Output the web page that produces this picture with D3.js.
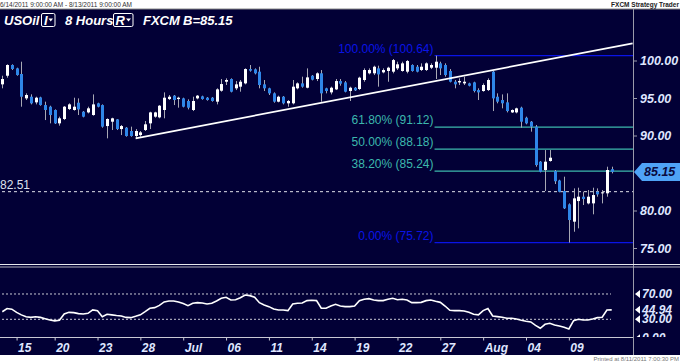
<!DOCTYPE html>
<html>
<head>
<meta charset="utf-8">
<script src="https://cdn.jsdelivr.net/npm/d3@7"></script>
<style>
body { margin: 0; background: #fff; }
svg { display: block; font-family: "Liberation Sans", Arial, sans-serif; }
</style>
</head>
<body>
<div id="chart"></div>
<script>
// 8 hour bars, USOil, 6/14 - 8/11 2011
var opens = [96.82,97.97,99.40,98.95,98.20,94.95,95.17,94.42,95.08,94.06,
  93.84,93.40,91.62,92.20,93.53,93.40,94.37,93.17,93.08,92.73,
  94.29,94.06,91.26,91.84,92.15,90.86,91.04,90.60,89.93,90.06,
  90.73,91.62,92.51,92.42,93.40,94.86,95.31,94.86,94.95,94.60,
  93.40,94.95,95.22,95.04,95.04,94.51,95.97,97.17,97.53,96.29,
  96.51,96.95,98.86,98.82,98.51,96.82,96.29,95.62,94.51,95.17,
  94.29,94.29,96.29,96.95,96.37,97.97,97.53,98.29,96.29,95.75,
  96.15,97.26,97.08,95.93,96.37,96.20,97.40,98.29,98.29,98.95,
  98.42,98.60,98.51,98.95,98.60,98.51,99.40,99.17,98.73,98.73,
  99.04,99.04,99.62,99.40,98.60,97.17,97.08,96.95,96.95,97.08,
  96.06,95.93,96.06,98.51,95.17,94.73,94.42,93.08,93.08,93.71,
  92.37,91.84,91.18,86.51,85.40,86.60,85.26,84.00,82.60,80.82,
  78.51,81.26,81.84,80.95,80.95,82.51,82.29,82.29,85.51]

var highs = [97.97,99.49,99.49,99.04,99.84,95.62,95.49,95.17,95.17,94.51,
  93.97,93.48,92.51,93.93,94.29,95.04,94.95,93.26,93.84,95.48,
  94.37,94.15,92.29,92.37,92.20,91.40,91.13,91.18,90.86,90.60,
  91.93,93.17,93.17,94.06,95.75,95.40,95.40,95.17,95.04,94.82,
  95.17,95.40,95.31,95.13,95.13,96.29,97.53,97.62,97.62,97.26,
  97.40,98.95,99.40,98.95,99.17,97.40,96.37,95.75,95.31,95.26,
  94.73,97.40,97.08,97.84,98.95,98.06,98.42,98.73,96.37,96.51,
  97.53,97.53,97.26,96.51,96.46,97.84,98.95,98.95,99.31,99.31,
  98.95,99.17,100.20,99.84,99.84,100.06,99.49,99.40,99.62,99.75,
  99.62,100.64,99.84,99.62,98.86,97.40,97.62,97.84,97.04,97.17,
  96.29,96.95,97.62,98.60,95.62,95.48,95.62,93.48,93.71,93.84,
  92.51,91.93,91.40,86.60,88.06,88.06,85.40,84.10,84.51,80.95,
  82.95,83.04,82.51,82.73,83.04,82.95,82.73,85.84,85.84]

var lows = [96.29,97.71,98.73,97.97,93.84,94.73,94.15,94.15,93.97,92.06,
  91.62,91.53,91.31,92.06,93.40,93.31,92.73,92.42,92.95,92.64,
  93.75,91.04,89.62,90.73,90.73,90.06,89.84,89.84,89.62,89.84,
  90.60,90.86,92.37,92.29,92.29,94.73,94.06,93.71,93.75,93.48,
  93.26,94.82,94.77,94.64,94.51,94.15,95.84,96.73,95.75,96.06,
  95.84,96.82,98.51,98.15,96.29,95.93,95.40,94.37,94.42,94.15,
  93.84,94.15,96.15,96.37,96.29,97.35,97.26,94.51,95.62,95.48,
  96.06,96.64,95.75,94.60,95.93,96.06,97.17,98.15,98.06,96.51,
  98.29,97.17,98.29,98.73,98.51,98.29,98.51,98.42,98.60,98.60,
  98.86,97.53,98.06,97.84,97.08,96.29,96.73,96.73,96.55,95.75,
  94.73,95.84,95.93,93.26,94.29,93.62,93.08,93.00,92.95,91.04,
  91.49,90.51,85.84,85.08,82.60,86.51,83.53,82.42,80.20,75.72,
  77.17,77.62,80.73,80.82,79.49,81.84,80.95,81.84,84.95]

var closes = [97.53,99.40,98.86,98.06,95.17,95.40,94.29,95.04,94.06,93.40,
  92.73,91.62,92.29,93.84,94.15,93.84,93.48,92.51,93.62,94.15,
  93.84,91.18,92.20,92.29,90.86,91.26,89.93,89.93,90.60,90.42,
  91.49,93.08,93.08,93.97,95.04,95.17,94.73,95.04,93.84,93.71,
  94.60,95.31,94.86,94.73,94.60,96.15,96.86,97.40,95.84,96.82,
  97.17,98.86,98.64,98.29,96.73,96.29,95.62,94.51,95.17,94.29,
  94.60,96.51,96.95,96.51,97.75,97.44,98.29,95.62,95.93,96.37,
  97.26,96.91,95.84,96.37,96.02,97.71,98.73,98.73,99.17,98.15,
  98.73,99.04,100.06,99.49,99.62,99.93,98.60,98.51,99.17,99.62,
  99.40,99.84,98.95,98.06,97.17,96.82,97.26,97.17,96.64,95.93,
  95.75,96.73,97.40,94.95,94.51,94.29,93.26,93.40,93.62,91.84,
  91.62,91.18,86.06,85.17,86.51,87.04,83.90,82.50,80.29,78.73,
  81.62,81.84,81.53,81.84,82.06,82.15,82.42,85.40,85.15]

var rsiValues = [42,47,46,41,37,34,33,34,33,31,
  29,27.5,28.5,38.5,41,40.5,39,38.5,39.5,44.8,
  43.7,34.2,38,37,36,35.3,33,32.6,34.7,37,
  42,47.4,48.4,52,57.4,59,59,57.4,54.8,51.6,
  55.3,56.3,55.8,54.2,55.3,59,63.2,64.8,60.5,61,
  64.2,68.4,67.4,64.8,56.3,52.6,50,46.3,44.8,44.8,
  43.7,54.2,55.3,55.8,59.5,60,59.5,47.4,47.4,51,
  53.7,51,50,50,51,59.5,61.6,62.6,60.5,59.5,
  59.5,61.6,63.2,61,61.6,60.5,56.3,56.3,56.8,59.5,
  60.5,58.4,56.8,51,44.2,43.7,43.7,43.2,41,38,
  37,43.7,47,35.3,34.2,33.2,31.6,31.6,30.5,28.5,
  27,25.8,20.5,15.8,22.1,23.7,21.1,19.5,17.4,14.7,
  27.9,30,29,29,30.5,32.6,33.2,44.8,44.94]

var tickBars = [3,11,20,29,38,47,56,65,74,83,92,101,110,119]
var tickLabels = ["15","20","23","28","Jul","06","11","14","19","22","27","Aug","04","09"]

var priceTicks = [75,80,90,95,100]
var fibNames = ["100.00%","61.80%","50.00%","38.20%","0.00%"]
var fibValues = [100.64,91.12,88.18,85.24,75.72]
var fibStartBar = 91

var trendBars = [28, 132.4]
var trendPrices = [89.62, 102.29]

var refLevel = 82.51
var rsiLevels = [70,30]
var rsiAxisLabels = [70,30,0]

var width = 680, height = 363
var plotRight = 633

var svg = d3.select("#chart").append("svg")
    .attr("width", width)
    .attr("height", height)

var navy = "#020036"
var blue = "#2f86e8"
var teal = "#3cb8ad"
var fibBlue = "#0a14e6"
var labelColor = "#dfe6ff"

// backgrounds
svg.append("rect").attr("width", width).attr("height", height).attr("fill", "#fff")
svg.append("rect").attr("y", 9).attr("width", width).attr("height", 346).attr("fill", navy)
svg.append("line").attr("x1", 0).attr("x2", width).attr("y1", 9).attr("y2", 9).attr("stroke", "#888")

// header texts
svg.append("text").attr("x", 0).attr("y", 6.5)
  .attr("font-size", 6.5).attr("fill", "#333")
  .text("6/14/2011 9:00:00 AM - 8/13/2011 9:00:00 AM")
svg.append("text").attr("x", 679).attr("y", 6.5)
  .attr("font-size", 6.5).attr("font-weight", "bold").attr("text-anchor", "end").attr("fill", "#222")
  .text("FXCM Strategy Trader")
svg.append("text").attr("x", 679).attr("y", 361)
  .attr("font-size", 6).attr("text-anchor", "end").attr("fill", "#777")
  .text("Printed at 8/11/2011 7:00:30 PM")

// title bar
var title = svg.append("g").attr("font-weight", "bold").attr("font-style", "italic")
  .attr("font-size", 13).attr("fill", "#fff")
title.append("text").attr("x", 4).attr("y", 25).text("USOil")
title.append("rect").attr("x", 41.5).attr("y", 13.5).attr("width", 13.5).attr("height", 13)
  .attr("rx", 1.5).attr("fill", "none").attr("stroke", "#fff")
title.append("text").attr("x", 44).attr("y", 25).text("I")
title.append("path").attr("d", "M48.5,18.5 L53,18.5 L50.75,21.5 Z").attr("fill", "#fff")
title.append("text").attr("x", 65).attr("y", 25).text("8 Hours")
title.append("rect").attr("x", 113.5).attr("y", 13.5).attr("width", 19.5).attr("height", 13)
  .attr("rx", 1.5).attr("fill", "none").attr("stroke", "#fff")
title.append("text").attr("x", 115.5).attr("y", 25).text("R")
title.append("path").attr("d", "M126,18.5 L131,18.5 L128.5,21.5 Z").attr("fill", "#fff")
title.append("text").attr("x", 143).attr("y", 25).text("FXCM")
title.append("text").attr("x", 183).attr("y", 25).text("B=" + closes[closes.length - 1].toFixed(2))

// scales
var xScale = d3.scaleLinear().domain([0, 128]).range([2.3, 611.7])
var yScale = d3.scaleLinear().domain([75, 100]).range([248, 60.5])
var rsiScale = d3.scaleLinear().domain([0, 100]).range([338.3, 275])

// separators
svg.append("line").attr("x1", plotRight + 0.5).attr("x2", plotRight + 0.5)
  .attr("y1", 9).attr("y2", 355).attr("stroke", "#9a9aaa")
svg.append("line").attr("x1", 0).attr("x2", width).attr("y1", 264.5).attr("y2", 264.5)
  .attr("stroke", "#e8e8ee").attr("stroke-width", 1.2)
svg.append("line").attr("x1", 0).attr("x2", width).attr("y1", 267).attr("y2", 267)
  .attr("stroke", "#b0b0bc").attr("stroke-width", 1)

// 82.51 reference
svg.append("line").attr("x1", 2).attr("x2", plotRight)
  .attr("y1", yScale(refLevel)).attr("y2", yScale(refLevel))
  .attr("stroke", "#e0e0ea").attr("stroke-dasharray", "3,3")
svg.append("text").attr("x", 0).attr("y", yScale(refLevel) - 3)
  .attr("font-size", 12).attr("fill", "#dde0ee").text(refLevel.toFixed(2))

// fib levels
fibValues.forEach(function(v, i) {
  var c = (i == 0 || i == fibValues.length - 1) ? fibBlue : teal
  svg.append("line")
    .attr("x1", xScale(fibStartBar) - 1).attr("x2", plotRight)
    .attr("y1", yScale(v)).attr("y2", yScale(v))
    .attr("stroke", c).attr("stroke-width", 1.2)
  svg.append("text")
    .attr("x", xScale(fibStartBar) - 2).attr("y", yScale(v) - 3)
    .attr("text-anchor", "end").attr("font-size", 12).attr("fill", c)
    .text(fibNames[i] + " (" + v.toFixed(2) + ")")
})

// candles
var bars = d3.range(opens.length)
var candles = svg.append("g")
candles.selectAll(".wick").data(bars).enter().append("line")
  .attr("class", "wick")
  .attr("x1", function(i) { return Math.round(xScale(i)) + 0.5 })
  .attr("x2", function(i) { return Math.round(xScale(i)) + 0.5 })
  .attr("y1", function(i) { return yScale(highs[i]) })
  .attr("y2", function(i) { return yScale(lows[i]) })
  .attr("stroke", "#a8a8b4")
candles.selectAll(".body").data(bars).enter().append("rect")
  .attr("class", "body")
  .attr("x", function(i) { return Math.round(xScale(i)) - 1 })
  .attr("width", 3)
  .attr("y", function(i) { return yScale(Math.max(opens[i], closes[i])) })
  .attr("height", function(i) { return Math.max(1, Math.abs(yScale(opens[i]) - yScale(closes[i]))) })
  .attr("fill", function(i) { return closes[i] >= opens[i] ? "#ffffff" : blue })

// trendline
svg.append("line")
  .attr("x1", xScale(trendBars[0])).attr("y1", yScale(trendPrices[0]))
  .attr("x2", xScale(trendBars[1])).attr("y2", yScale(trendPrices[1]))
  .attr("stroke", "#fff").attr("stroke-width", 1.7)

// price axis
var yAxis = d3.axisRight(yScale).tickValues(priceTicks).tickFormat(d3.format(".2f")).tickSize(4)
var ya = svg.append("g").attr("transform", "translate(" + plotRight + ",0)").call(yAxis)
ya.select(".domain").remove()
ya.selectAll("line").attr("stroke", "#9a9aaa")
ya.selectAll("text").attr("fill", labelColor).attr("font-size", 12.5)
  .attr("font-weight", "bold").attr("font-style", "italic").attr("font-family", "Liberation Sans, Arial")

// last price marker
var lastY = yScale(closes[closes.length - 1])
svg.append("path")
  .attr("d", "M634," + lastY + " L642," + (lastY - 9) + " L680," + (lastY - 9) + " L680," + (lastY + 9) + " L642," + (lastY + 9) + " Z")
  .attr("fill", "#4fa3f7")
svg.append("text").attr("x", 644).attr("y", lastY + 4.5)
  .attr("font-size", 12.5).attr("font-weight", "bold").attr("font-style", "italic")
  .attr("fill", "#0a0a40").text(closes[closes.length - 1].toFixed(2))

// RSI panel
rsiLevels.forEach(function(v) {
  svg.append("line").attr("x1", 2).attr("x2", 611)
    .attr("y1", rsiScale(v)).attr("y2", rsiScale(v))
    .attr("stroke", "#c8c8d4").attr("stroke-dasharray", "2,2")
})
var rsiLine = d3.line()
  .x(function(d, i) { return xScale(i) })
  .y(function(d) { return rsiScale(d) })
svg.append("path").datum(rsiValues)
  .attr("d", rsiLine).attr("fill", "none").attr("stroke", "#fff").attr("stroke-width", 1.6)

svg.append("clipPath").attr("id", "rsiclip").append("rect")
  .attr("x", plotRight + 1).attr("y", 268).attr("width", 50).attr("height", 69)
var rsiLab = svg.append("g").attr("clip-path", "url(#rsiclip)")
  .attr("font-size", 12).attr("font-weight", "bold").attr("font-style", "italic")
var rsiMarks = rsiAxisLabels.concat([rsiValues[rsiValues.length - 1]])
rsiMarks.forEach(function(v) {
  var yy = rsiScale(v)
  rsiLab.append("path").attr("d", "M635," + yy + " L640," + (yy - 4) + " L640," + (yy + 4) + " Z").attr("fill", "#fff")
  rsiLab.append("text").attr("x", 642).attr("y", yy + 4).attr("fill", labelColor).text(v.toFixed(2))
})

// time axis
svg.append("line").attr("x1", 0).attr("x2", plotRight).attr("y1", 337.5).attr("y2", 337.5)
  .attr("stroke", "#c8c8d4")
var xAxis = d3.axisBottom(xScale).tickValues(tickBars)
  .tickFormat(function(d, i) { return tickLabels[i] }).tickSize(3)
var xa = svg.append("g").attr("transform", "translate(0,337.5)").call(xAxis)
xa.select(".domain").remove()
xa.selectAll("line").attr("stroke", "#c8c8d4")
xa.selectAll("text").attr("fill", labelColor).attr("font-size", 12)
  .attr("font-weight", "bold").attr("font-style", "italic").attr("font-family", "Liberation Sans, Arial")
  .attr("text-anchor", "start").attr("x", 1)
</script>
</body>
</html>
